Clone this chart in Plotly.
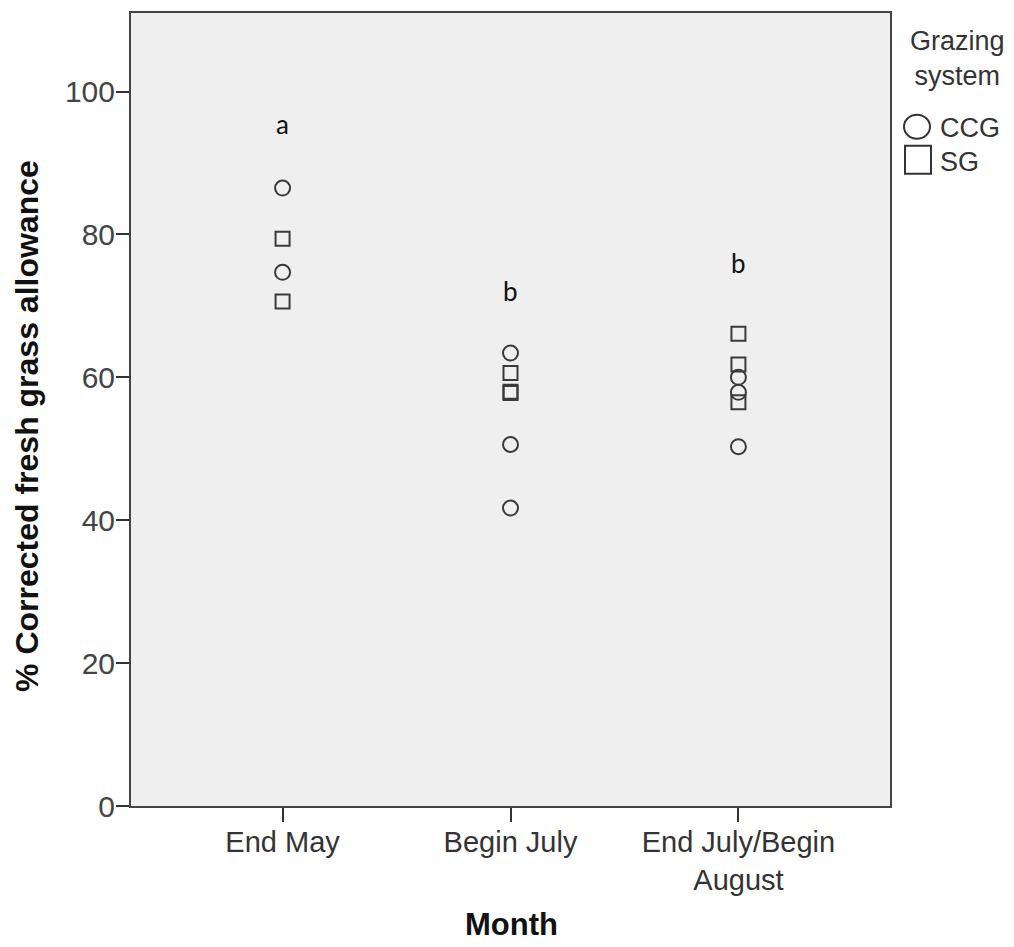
import plotly.graph_objects as go

months = ["End May", "Begin July", "End July/Begin<br>August"]
month_idx = [0, 1, 2]

# CCG (circles)
ccg_x = [0, 0, 1, 1, 1, 2, 2, 2]
ccg_y = [86.5, 74.7, 63.4, 50.6, 41.7, 60.0, 57.9, 50.3]
# SG (squares)
sg_x = [0, 0, 1, 1, 1, 2, 2, 2]
sg_y = [79.4, 70.6, 60.6, 58.0, 57.8, 66.1, 61.8, 56.5]

letters = ["a", "b", "b"]
letter_y = [95.4, 72.1, 76.0]

y_ticks = [0, 20, 40, 60, 80, 100]

mk_color = "#3a3a3a"
font_fam = "Liberation Sans, Arial, sans-serif"

W, H = 1014, 947
ml, mr, mt, mb = 131, 124, 11, 141
pw, ph = W - ml - mr, H - mt - mb


def px2paper(px, py):
    return (px - ml) / pw, 1 - (py - mt) / ph


fig = go.Figure()
fig.add_trace(go.Scatter(
    x=ccg_x, y=ccg_y, mode="markers", name="CCG", showlegend=False,
    marker=dict(symbol="circle-open", size=15, color=mk_color, line=dict(width=2, color=mk_color)),
))
fig.add_trace(go.Scatter(
    x=sg_x, y=sg_y, mode="markers", name="SG", showlegend=False,
    marker=dict(symbol="square-open", size=14, color=mk_color, line=dict(width=2, color=mk_color)),
))

for xi, lt, ly in zip(month_idx, letters, letter_y):
    fig.add_annotation(x=xi, y=ly, text=lt, showarrow=False, xref="x", yref="y",
                       xanchor="center", yanchor="middle",
                       font=dict(family="Lato, Open Sans, sans-serif", size=26, color="#111"))


def add_px_text(text, px, py, font, xanchor="center", angle=0):
    x, y = px2paper(px, py)
    fig.add_annotation(text=text, x=x, y=y, xref="paper", yref="paper", showarrow=False,
                       xanchor=xanchor, yanchor="middle", textangle=angle, font=font)


title_font = dict(family=font_fam, size=32, color="#111")
add_px_text("<b>% Corrected fresh grass allowance</b>", 27, 425, title_font, angle=-90)
add_px_text("<b>Month</b>", 511, 925, dict(family=font_fam, size=31, color="#111"))

leg_font = dict(family=font_fam, size=27, color="#333")
add_px_text("Grazing<br>system", 957, 57, leg_font)
add_px_text("CCG", 938, 126, leg_font, xanchor="left")
add_px_text("SG", 938, 160, leg_font, xanchor="left")

cx, cy = px2paper(917, 125)
sx, sy = px2paper(918, 158)
fig.add_shape(type="circle", xref="paper", yref="paper", xsizemode="pixel", ysizemode="pixel",
              xanchor=cx, yanchor=cy, x0=-13, x1=13, y0=-12, y1=12,
              line=dict(color="#333", width=2))
fig.add_shape(type="rect", xref="paper", yref="paper", xsizemode="pixel", ysizemode="pixel",
              xanchor=sx, yanchor=sy, x0=-13, x1=13, y0=-14, y1=14,
              line=dict(color="#333", width=2))

fig.update_layout(
    width=W, height=H,
    margin=dict(l=ml, r=mr, t=mt, b=mb),
    paper_bgcolor="white", plot_bgcolor="#efefef",
    showlegend=False,
    font=dict(family=font_fam, color="#333"),
)
fig.update_xaxes(
    range=[-0.665, 2.665], tickvals=month_idx, ticktext=months,
    showgrid=False, zeroline=False, showline=True, linecolor="#444", linewidth=2, mirror=True,
    ticks="outside", ticklen=14, tickwidth=2, tickcolor="#333", ticklabelstandoff=-5,
    tickfont=dict(family=font_fam, size=29, color="#333"),
)
fig.update_yaxes(
    range=[0, 111], tickvals=y_ticks,
    showgrid=False, zeroline=False, showline=True, linecolor="#444", linewidth=2, mirror=True,
    ticks="outside", ticklen=13, tickwidth=2, tickcolor="#333", ticklabelstandoff=-5,
    tickfont=dict(family=font_fam, size=30, color="#444"),
)

fig.write_html("out.html")
